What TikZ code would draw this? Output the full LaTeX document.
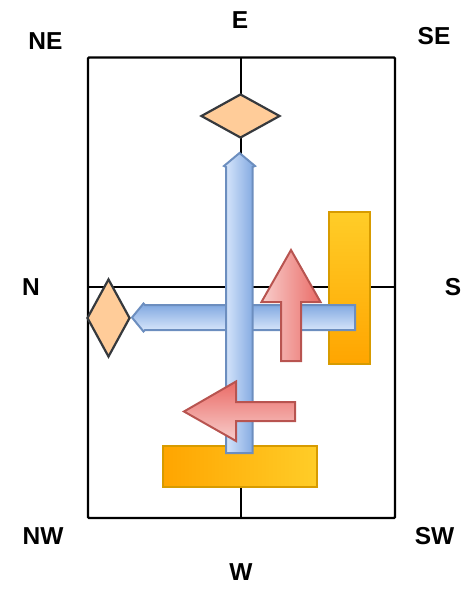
\documentclass[tikz,border=0pt]{standalone}
\usepackage{fontspec}
\setmainfont{Liberation Sans}
\usepackage{xcolor}
\usepackage{tikz}
\usetikzlibrary{shapes.geometric}

\definecolor{peach}{HTML}{FFCC99}
\definecolor{peachline}{HTML}{36393D}
\definecolor{bluelight}{HTML}{DAE8FC}
\definecolor{bluedark}{HTML}{7EA6E0}
\definecolor{blueline}{HTML}{6C8EBF}
\definecolor{redlight}{HTML}{F8CECC}
\definecolor{reddark}{HTML}{EA6B66}
\definecolor{redline}{HTML}{B85450}
\definecolor{orangeyel}{HTML}{FFCD28}
\definecolor{orangedark}{HTML}{FFA500}
\definecolor{orangeline}{HTML}{D79B00}

\tikzset{
	dirlabel/.style={font=\fontsize{24.5}{28}\selectfont\bfseries,inner sep=0pt},
	gem/.style={diamond,draw=peachline,fill=peach,line width=2.2pt,inner sep=0pt},
	bluearrow/.style={draw=blueline,line width=2pt,line join=miter},
	redarrow/.style={draw=redline,line width=2pt,line join=miter},
	orangebar/.style={draw=orangeline,line width=2pt}
}

\begin{document}
\begin{tikzpicture}[x=1pt,y=-1pt]
	\useasboundingbox (0,0) rectangle (473,589);
	% compass labels
	\node[dirlabel] (E) at (240,20) {E};
	\node[dirlabel] (W) at (241,572) {W};
	\node[dirlabel] (N) at (31,287.5) {N};
	\node[dirlabel] (S) at (453,287.5) {S};
	\node[dirlabel] (NE) at (45.5,41) {NE};
	\node[dirlabel] (SE) at (434,36.5) {SE};
	\node[dirlabel] (NW) at (43,536) {NW};
	\node[dirlabel] (SW) at (434.5,536) {SW};
	% frame and axes
	\draw[line width=2.2pt] (241,57.5)--(241,518);
	\draw[line width=2.2pt] (88,287)--(395,287);
	\draw[line width=2.2pt,rounded corners=1pt] (88,57.5) rectangle (395,518);
	% orange bars
	\shade[orangebar,top color=orangeyel,bottom color=orangedark] (329,212) rectangle (370,364);
	\shade[orangebar,left color=orangedark,right color=orangeyel] (163,446) rectangle (317,487);
	% blue arrows
	\shade[bluearrow,top color=bluedark,bottom color=bluelight]
		(355,305)--(145,305)--(143.5,303.5)--(132,317.5)--(143.5,331.5)--(145,330)--(355,330)--cycle;
	\shade[bluearrow,left color=bluelight,right color=bluedark]
		(226,453)--(226,167)--(224,166)--(239.5,153)--(255,166)--(252.5,167)--(252.5,453)--cycle;
	% red arrows
	\shade[redarrow,left color=redlight,right color=reddark]
		(281,361)--(281,302)--(261.5,302)--(291,250)--(320.5,302)--(301,302)--(301,361)--cycle;
	\shade[redarrow,top color=reddark,bottom color=redlight]
		(295,402)--(236,402)--(236,381.5)--(184,411.5)--(236,441)--(236,421)--(295,421)--cycle;
	% diamonds
	\node[gem,minimum width=79pt,minimum height=44pt] (top) at (240.5,116) {};
	\node[gem,minimum width=43pt,minimum height=78pt] (left) at (108.5,318) {};
\end{tikzpicture}
\end{document}
